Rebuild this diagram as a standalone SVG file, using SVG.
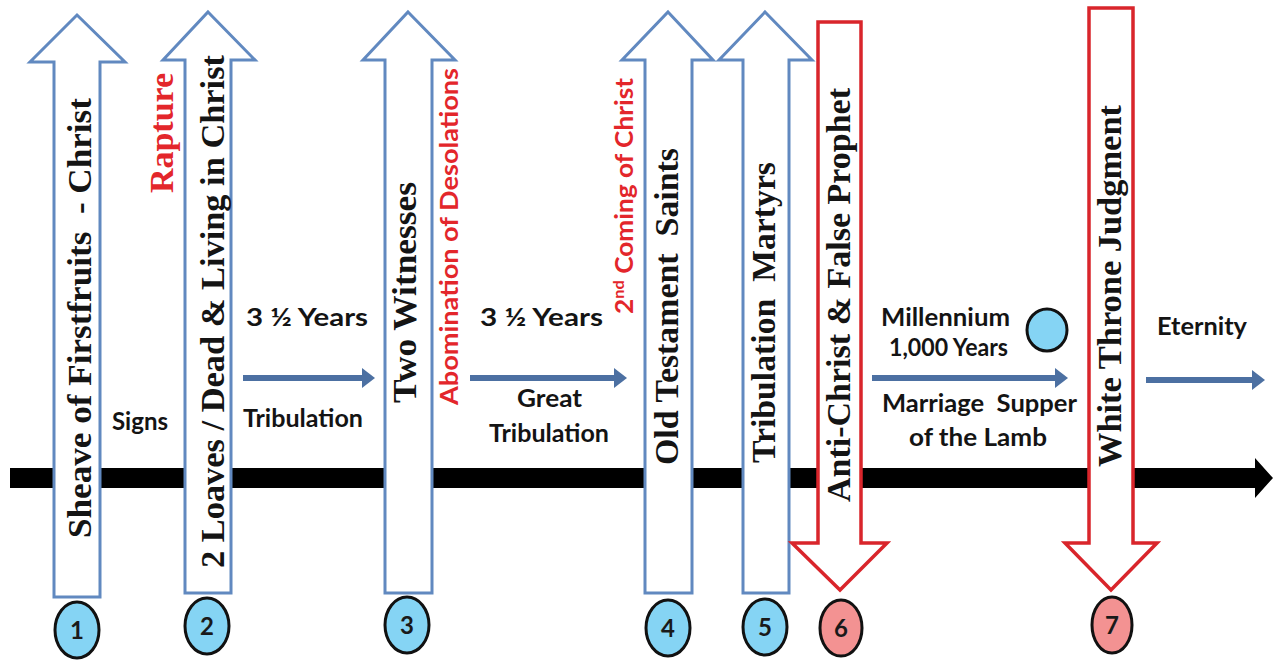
<svg xmlns="http://www.w3.org/2000/svg" width="1274" height="660" viewBox="0 0 1274 660">
<style>
.bl{fill:#fff;stroke:#6189c0;stroke-width:3;stroke-linejoin:miter}
.rd{fill:#fff;stroke:#d9252b;stroke-width:3.5;stroke-linejoin:miter}
.serif{font-family:"Liberation Serif","Times New Roman",serif;font-weight:bold;font-size:34px;fill:#141414}
.sans{font-family:Lato,"Liberation Sans",sans-serif;font-weight:bold;font-size:24px;fill:#141414}
.red{fill:#e3262b}
.nb{fill:#85d4f4;stroke:#111;stroke-width:3}
.nr{fill:#f39292;stroke:#111;stroke-width:3}
.num{font-family:Lato,"Liberation Sans",sans-serif;font-weight:bold;font-size:24px;fill:#1a1a1a;text-anchor:middle}
.conn{stroke:#4c70a2;stroke-width:6;fill:none;marker-end:url(#ah)}
</style>
<defs>
<marker id="ah" markerUnits="userSpaceOnUse" markerWidth="14" markerHeight="20" refX="1" refY="10" orient="auto">
<path d="M0,0 L13,10 L0,20 Z" fill="#4c70a2"/>
</marker>
</defs>
<rect width="1274" height="660" fill="#fff"/>
<g id="connectors">
<path id="timeline" d="M10,468 H1255 V458 L1273,478 L1255,498 V488 H10 Z" fill="#000"/>
<line class="conn" x1="243" y1="378" x2="363" y2="378"/>
<line class="conn" x1="470" y1="378" x2="615" y2="378"/>
<line class="conn" x1="872" y1="378" x2="1056" y2="378"/>
<line class="conn" x1="1146" y1="380" x2="1253" y2="380"/>
</g>
<g id="labels">
<text class="sans" text-anchor="middle" x="307" y="326" textLength="122" lengthAdjust="spacingAndGlyphs">3 ½ Years</text>
<text class="sans" text-anchor="middle" x="140" y="430" textLength="56" lengthAdjust="spacingAndGlyphs">Signs</text>
<text class="sans" text-anchor="middle" x="303" y="427" textLength="120" lengthAdjust="spacingAndGlyphs">Tribulation</text>
<text class="sans" text-anchor="middle" x="541.5" y="326" textLength="123" lengthAdjust="spacingAndGlyphs">3 ½ Years</text>
<text class="sans" text-anchor="middle" x="549.5" y="407" textLength="65" lengthAdjust="spacingAndGlyphs">Great</text>
<text class="sans" text-anchor="middle" x="549" y="442" textLength="120" lengthAdjust="spacingAndGlyphs">Tribulation</text>
<text class="sans" text-anchor="middle" x="945.5" y="326" textLength="129" lengthAdjust="spacingAndGlyphs">Millennium</text>
<text class="sans" text-anchor="middle" x="948.5" y="356" textLength="119" lengthAdjust="spacingAndGlyphs">1,000 Years</text>
<text class="sans" text-anchor="middle" x="979.5" y="412" textLength="195" lengthAdjust="spacingAndGlyphs" xml:space="preserve">Marriage  Supper</text>
<text class="sans" text-anchor="middle" x="978" y="446" textLength="138" lengthAdjust="spacingAndGlyphs">of the Lamb</text>
<text class="sans" text-anchor="middle" x="1202" y="335" textLength="90" lengthAdjust="spacingAndGlyphs">Eternity</text>
<ellipse id="millennium-dot" class="nb" cx="1047" cy="330" rx="20" ry="21"/>
</g>
<g id="node1">
<path class="bl" d="M77,15 L125,62 L100,62 L100,597 L54,597 L54,62 L30,62 Z"/>
<text class="serif" text-anchor="middle" transform="translate(91,318) rotate(-90)" textLength="440" lengthAdjust="spacingAndGlyphs" xml:space="preserve">Sheave of Firstfruits  - Christ</text>
<ellipse class="nb" cx="77" cy="630" rx="22" ry="28"/>
<text class="num" x="77" y="639">1</text>
</g>
<g id="node2">
<path class="bl" d="M208,12 L255,60 L231,60 L231,593 L185,593 L185,60 L163,60 Z"/>
<text class="serif" text-anchor="middle" transform="translate(224,311.5) rotate(-90)" textLength="513" lengthAdjust="spacingAndGlyphs">2 Loaves / Dead &amp; Living in Christ</text>
<text class="serif red" text-anchor="middle" transform="translate(173,133) rotate(-90)" textLength="120" lengthAdjust="spacingAndGlyphs">Rapture</text>
<ellipse class="nb" cx="207" cy="626" rx="22" ry="28"/>
<text class="num" x="207" y="635">2</text>
</g>
<g id="node3">
<path class="bl" d="M408,12 L455,60 L432,60 L432,593 L385,593 L385,60 L363,60 Z"/>
<text class="serif" text-anchor="middle" transform="translate(416,292.5) rotate(-90)" textLength="221" lengthAdjust="spacingAndGlyphs">Two Witnesses</text>
<text class="sans red" text-anchor="middle" transform="translate(458,236.5) rotate(-90)" textLength="337" lengthAdjust="spacingAndGlyphs">Abomination of Desolations</text>
<ellipse class="nb" cx="407" cy="625" rx="22" ry="28"/>
<text class="num" x="407" y="634">3</text>
</g>
<g id="node4">
<path class="bl" d="M668,12 L713,60 L692,60 L692,593 L645,593 L645,60 L622,60 Z"/>
<text class="serif" text-anchor="middle" transform="translate(678,306.5) rotate(-90)" textLength="317" lengthAdjust="spacingAndGlyphs" xml:space="preserve">Old Testament  Saints</text>
<text class="sans red" text-anchor="middle" transform="translate(633,196) rotate(-90)" textLength="236" lengthAdjust="spacingAndGlyphs">2<tspan font-size="15" baseline-shift="9">nd</tspan> Coming of Christ</text>
<ellipse class="nb" cx="668" cy="628" rx="22" ry="28"/>
<text class="num" x="668" y="637">4</text>
</g>
<g id="node5">
<path class="bl" d="M765,12 L812,60 L789,60 L789,593 L743,593 L743,60 L719,60 Z"/>
<text class="serif" text-anchor="middle" transform="translate(775,312.5) rotate(-90)" textLength="301" lengthAdjust="spacingAndGlyphs" xml:space="preserve">Tribulation  Martyrs</text>
<ellipse class="nb" cx="765" cy="627" rx="22" ry="28"/>
<text class="num" x="765" y="636">5</text>
</g>
<g id="node6">
<path class="rd" d="M818,22 L861,22 L861,543 L887,543 L840,590 L792,543 L818,543 Z"/>
<text class="serif" text-anchor="middle" transform="translate(850,295) rotate(-90)" textLength="414" lengthAdjust="spacingAndGlyphs">Anti-Christ &amp; False Prophet</text>
<ellipse class="nr" cx="841" cy="628" rx="21" ry="28"/>
<text class="num" x="841" y="637">6</text>
</g>
<g id="node7">
<path class="rd" d="M1089,8 L1133,8 L1133,543 L1157,543 L1111,590 L1065,543 L1089,543 Z"/>
<text class="serif" text-anchor="middle" transform="translate(1121,286) rotate(-90)" textLength="362" lengthAdjust="spacingAndGlyphs">White Throne Judgment</text>
<ellipse class="nr" cx="1112" cy="625" rx="20" ry="28"/>
<text class="num" x="1112" y="634">7</text>
</g>
</svg>
